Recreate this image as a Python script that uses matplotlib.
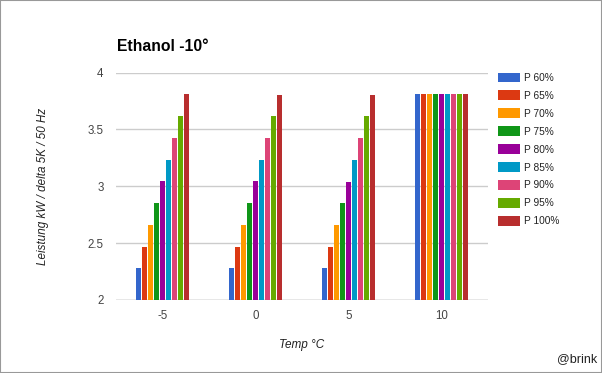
import matplotlib
matplotlib.use("Agg")
import matplotlib.pyplot as plt
from matplotlib.patches import Patch, Rectangle
import numpy as np

plt.rcParams['font.family'] = ['Liberation Sans', 'DejaVu Sans']

categories = ["-5", "0", "5", "10"]
series = ["P 60%", "P 65%", "P 70%", "P 75%", "P 80%", "P 85%", "P 90%", "P 95%", "P 100%"]
values = {
    "P 60%":  [2.28, 2.28, 2.28, 3.81],
    "P 65%":  [2.47, 2.47, 2.47, 3.81],
    "P 70%":  [2.66, 2.66, 2.66, 3.81],
    "P 75%":  [2.855, 2.855, 2.855, 3.81],
    "P 80%":  [3.045, 3.045, 3.04, 3.81],
    "P 85%":  [3.235, 3.235, 3.233, 3.81],
    "P 90%":  [3.425, 3.425, 3.427, 3.81],
    "P 95%":  [3.62, 3.62, 3.62, 3.81],
    "P 100%": [3.81, 3.805, 3.805, 3.81],
}
colors = ["#3366cc", "#dc3912", "#ff9900", "#109618", "#990099",
          "#0099c6", "#dd4477", "#66aa00", "#b82e2e"]
yticks = [2, 2.5, 3, 3.5, 4]
yticklabels = ["2", "2.5", "3", "3.5", "4"]

W, H = 602, 373
fig = plt.figure(figsize=(W / 100, H / 100), dpi=100)
ax = fig.add_axes([116 / W, 1 - 300 / H, 372 / W, 227.5 / H])

x = np.arange(len(categories))
pitch = 0.0645
width = 0.054
for j, s in enumerate(series):
    ax.bar(x + (j - 4) * pitch, np.array(values[s]) - 2, bottom=2,
           width=width, color=colors[j], zorder=3)

ax.set_xlim(-0.5, 3.5)
ax.set_ylim(2, 4)
ax.set_yticks(yticks)
ax.set_yticklabels(yticklabels)
ax.set_xticks(x)
ax.set_xticklabels(categories)
ax.tick_params(axis='both', length=0, labelsize=8.3, colors="#444444")
ax.tick_params(axis='y', pad=9)
ax.tick_params(axis='x', pad=7.5)
ax.grid(axis='y', color="#cccccc", linewidth=1, zorder=0)
for sp in ax.spines.values():
    sp.set_visible(False)
ax.axhline(2, color="#b0b0b0", linewidth=1, zorder=2)

ax.set_xlabel("Temp °C", fontsize=8.5, style='italic', color="#222222")
ax.xaxis.set_label_coords(0.5, -0.172)
ax.set_ylabel("Leistung kW / delta 5K / 50 Hz", fontsize=8.4, style='italic', color="#222222")
ax.yaxis.set_label_coords((49 - 116) / 372, 0.5)

fig.text(117 / W, 1 - 51 / H, "Ethanol -10°", fontsize=11.3, fontweight='bold',
         ha='left', va='baseline', color="#000000")
fig.text(597 / W, 1 - 362 / H, "@brink", fontsize=9, ha='right', va='baseline',
         color="#222222")

handles = [Patch(facecolor=c, edgecolor='none') for c in colors]
fig.legend(handles, series, loc='upper left', bbox_to_anchor=(498 / W, 1 - 72.5 / H),
           frameon=False, fontsize=7.3, handlelength=2.15, handleheight=1.05,
           labelspacing=0.77, handletextpad=0.4, borderpad=0, borderaxespad=0,
           labelcolor="#222222")

fig.patches.append(Rectangle((0, 0), 1, 1, transform=fig.transFigure, fill=False,
                             edgecolor="#999999", linewidth=1.5))

fig.savefig("out.png", dpi=100)
